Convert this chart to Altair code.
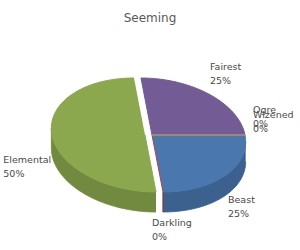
import math
import altair as alt
import pandas as pd

# ---- data ----
names = ["Beast", "Darkling", "Elemental", "Fairest", "Ogre", "Wizened"]
counts = [1, 0, 2, 1, 0, 0]
colors = ["#4A77AE", "#B3433F", "#8BA84F", "#735B96", "#45A3BC", "#EE8A3A"]
explode = [0, 0, 7, 0, 0, 0]

df = pd.DataFrame({"name": names, "value": counts, "order": list(range(len(names))),
                   "explode": explode})

# ---- geometry (pixel space) ----
CX, CY = 152, 135
RX, RY = 93, 57
SX = 11          # slight perspective shear
DEPTH = 20
START = math.pi / 2   # first slice angle (90 deg, clockwise from 12 o'clock)
N = 60
F0 = math.pi / 2 + math.atan(SX / RX)
F1 = F0 + math.pi

xs = alt.Scale(domain=[0, 300], nice=False, zero=False)
ys = alt.Scale(domain=[0, 250], nice=False, zero=False, reverse=True)
cscale = alt.Scale(domain=names, range=colors)

base = alt.Chart(df).transform_joinaggregate(
    total="sum(value)"
).transform_window(
    cum="sum(value)", sort=[alt.SortField("order")], frame=[None, 0]
).transform_calculate(
    a1=f"{START} + 2*PI*datum.cum/datum.total",
    a0=f"{START} + 2*PI*(datum.cum - datum.value)/datum.total",
).transform_calculate(
    mid="(datum.a0 + datum.a1)/2",
).transform_calculate(
    ex="datum.explode*sin(datum.mid)",
    ey=f"-datum.explode*cos(datum.mid)*{RY/RX}",
)

enc_xy = dict(
    x=alt.X("px:Q", scale=xs, axis=None),
    y=alt.Y("py:Q", scale=ys, axis=None),
    order=alt.Order("i:Q"),
    detail=alt.Detail("name:N"),
)

# side (front, visible) faces
side_data = base.transform_calculate(
    s0=f"max(datum.a0, {F0})", s1=f"min(datum.a1, {F1})"
).transform_filter(
    "datum.s1 >= datum.s0"
).transform_calculate(
    i=f"sequence(0, {2*(N+1)})"
).transform_flatten(["i"]).transform_calculate(
    k=f"datum.i <= {N} ? datum.i : {2*N+1} - datum.i",
).transform_calculate(
    ang=f"datum.s0 + (datum.s1 - datum.s0)*datum.k/{N}",
).transform_calculate(
    px=f"{CX} + datum.ex + {RX}*sin(datum.ang) - {SX}*cos(datum.ang)",
    py=f"{CY} + datum.ey - {RY}*cos(datum.ang) + (datum.i > {N} ? {DEPTH} : 0)",
)

side = side_data.mark_line(strokeWidth=1, strokeJoin="round").encode(
    fill=alt.Fill("name:N", scale=cscale, legend=None),
    stroke=alt.Stroke("name:N", scale=cscale, legend=None),
    **enc_xy,
)
side_shade = side_data.mark_line(strokeWidth=0, fill="black", fillOpacity=0.18).encode(**enc_xy)

# top faces
top = base.transform_calculate(
    i=f"sequence(0, {N+2})"
).transform_flatten(["i"]).transform_calculate(
    ang=f"datum.a0 + (datum.a1 - datum.a0)*max(datum.i - 1, 0)/{N}",
).transform_calculate(
    px=f"datum.i == 0 ? {CX} + datum.ex : {CX} + datum.ex + {RX}*sin(datum.ang) - {SX}*cos(datum.ang)",
    py=f"datum.i == 0 ? {CY} + datum.ey : {CY} + datum.ey - {RY}*cos(datum.ang)",
).mark_line(strokeWidth=1, strokeJoin="round").encode(
    fill=alt.Fill("name:N", scale=cscale, legend=None),
    stroke=alt.Stroke("name:N", scale=cscale, legend=None),
    **enc_xy,
)

# labels (outside end, placed from each slice's mid angle)
labels = base.transform_joinaggregate(
    cnt="count()", groupby=["mid"]
).transform_window(
    rk="row_number()", groupby=["mid"], sort=[alt.SortField("order")]
).transform_calculate(
    label="[datum.name, format(datum.value/datum.total, '.0%')]",
    s="sin(datum.mid)", c="cos(datum.mid)",
).transform_calculate(
    lx="152 + 88.5*datum.s + 12.5*pow(datum.s, 3) - 18*datum.c*abs(datum.s)"
       " - (datum.s < -0.5 ? datum.name.length*5.3 : 0)",
    ly="137.5 - 102.7*datum.c - 22.5*pow(datum.s, 3) + 11.2*max(-datum.c, 0)"
       " + 28.4*pow(datum.c, 3) - 5*(datum.cnt - datum.rk)",
).mark_text(
    align="left", baseline="middle", font="DejaVu Sans", fontSize=9.5,
    color="#4a4a4a", lineHeight=14,
).encode(
    x=alt.X("lx:Q", scale=xs, axis=None),
    y=alt.Y("ly:Q", scale=ys, axis=None),
    text=alt.Text("label:N"),
)

chart = alt.layer(side, side_shade, top, labels).properties(
    width=300, height=250,
    autosize=alt.AutoSizeParams(type="none"),
    padding=0,
    title=alt.TitleParams("Seeming", font="DejaVu Sans", fontSize=12, fontWeight="normal",
                          color="#595959", anchor="middle", baseline="middle", offset=0, dy=30),
).configure_view(stroke=None)

chart.save("out.html", embed_options={"renderer": "svg", "actions": False})
